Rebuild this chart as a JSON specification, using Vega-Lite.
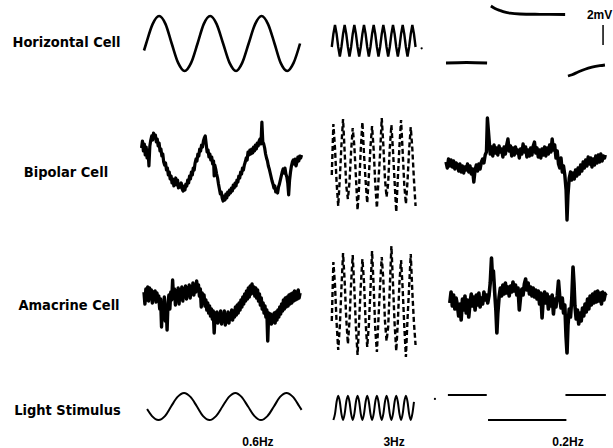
{
"$schema":"https://vega.github.io/schema/vega-lite/v6.json",
"padding":0,"background":"white","spacing":0,
"config":{"view":{"stroke":null},"concat":{"spacing":0}},
"datasets":{
"hc06":[{"t":0,"v":-0.7},{"t":0.07,"v":0},{"t":0.28,"v":1.94},{"t":0.49,"v":2.75},{"t":0.70,"v":1.94},{"t":0.90,"v":0},{"t":1.11,"v":-1.94},{"t":1.32,"v":-2.75},{"t":1.53,"v":-1.94},{"t":1.74,"v":0},{"t":1.94,"v":1.94},{"t":2.15,"v":2.75},{"t":2.36,"v":1.94},{"t":2.57,"v":0},{"t":2.78,"v":-1.94},{"t":2.99,"v":-2.75},{"t":3.19,"v":-1.94},{"t":3.40,"v":0},{"t":3.61,"v":1.94},{"t":3.82,"v":2.75},{"t":4.03,"v":1.94},{"t":4.24,"v":0},{"t":4.44,"v":-1.94},{"t":4.65,"v":-2.75},{"t":4.86,"v":-1.94},{"t":5.07,"v":0}],
"ls06":[{"t":0.10,"v":-0.19},{"t":0.26,"v":-0.71},{"t":0.47,"v":-1},{"t":0.68,"v":-0.71},{"t":0.88,"v":0},{"t":1.09,"v":0.71},{"t":1.30,"v":1},{"t":1.51,"v":0.71},{"t":1.72,"v":0},{"t":1.92,"v":-0.71},{"t":2.13,"v":-1},{"t":2.34,"v":-0.71},{"t":2.55,"v":0},{"t":2.76,"v":0.71},{"t":2.97,"v":1},{"t":3.17,"v":0.71},{"t":3.38,"v":0},{"t":3.59,"v":-0.71},{"t":3.80,"v":-1},{"t":4.01,"v":-0.71},{"t":4.22,"v":0},{"t":4.42,"v":0.71},{"t":4.63,"v":1},{"t":4.84,"v":0.71},{"t":5.05,"v":0},{"t":5.12,"v":-0.25}],
"hc3":[{"t":0.061,"v":-0.35},{"t":0.116,"v":0.95},{"t":0.172,"v":1.85},{"t":0.228,"v":0.95},{"t":0.283,"v":-0.35},{"t":0.339,"v":-1.3},{"t":0.394,"v":-0.35},{"t":0.450,"v":0.95},{"t":0.505,"v":1.85},{"t":0.561,"v":0.95},{"t":0.617,"v":-0.35},{"t":0.672,"v":-1.3},{"t":0.728,"v":-0.35},{"t":0.783,"v":0.95},{"t":0.839,"v":1.85},{"t":0.894,"v":0.95},{"t":0.950,"v":-0.35},{"t":1.006,"v":-1.3},{"t":1.061,"v":-0.35},{"t":1.117,"v":0.95},{"t":1.172,"v":1.85},{"t":1.228,"v":0.95},{"t":1.283,"v":-0.35},{"t":1.339,"v":-1.3},{"t":1.395,"v":-0.35},{"t":1.450,"v":0.95},{"t":1.506,"v":1.85},{"t":1.561,"v":0.95},{"t":1.617,"v":-0.35},{"t":1.672,"v":-1.3},{"t":1.728,"v":-0.35},{"t":1.784,"v":0.95},{"t":1.839,"v":1.85},{"t":1.895,"v":0.95},{"t":1.950,"v":-0.35},{"t":2.006,"v":-1.3},{"t":2.061,"v":-0.35},{"t":2.117,"v":0.95},{"t":2.172,"v":1.85},{"t":2.228,"v":0.95},{"t":2.284,"v":-0.35},{"t":2.339,"v":-1.3},{"t":2.395,"v":-0.35},{"t":2.450,"v":0.95},{"t":2.506,"v":1.85},{"t":2.561,"v":0.95},{"t":2.617,"v":-0.35},{"t":2.673,"v":-1.3},{"t":2.728,"v":-0.35},{"t":2.784,"v":0.95},{"t":2.839,"v":1.85},{"t":2.895,"v":0.95},{"t":2.950,"v":-0.35}],
"hc3dot":[{"t":3.16,"v":-0.48}],
"ls3":[{"t":0.116,"v":-1.0},{"t":0.172,"v":-0.55},{"t":0.228,"v":0.35},{"t":0.283,"v":0.8},{"t":0.339,"v":0.35},{"t":0.394,"v":-0.55},{"t":0.450,"v":-1.0},{"t":0.505,"v":-0.55},{"t":0.561,"v":0.35},{"t":0.617,"v":0.8},{"t":0.672,"v":0.35},{"t":0.728,"v":-0.55},{"t":0.783,"v":-1.0},{"t":0.839,"v":-0.55},{"t":0.894,"v":0.35},{"t":0.950,"v":0.8},{"t":1.006,"v":0.35},{"t":1.061,"v":-0.55},{"t":1.117,"v":-1.0},{"t":1.172,"v":-0.55},{"t":1.228,"v":0.35},{"t":1.283,"v":0.8},{"t":1.339,"v":0.35},{"t":1.395,"v":-0.55},{"t":1.450,"v":-1.0},{"t":1.506,"v":-0.55},{"t":1.561,"v":0.35},{"t":1.617,"v":0.8},{"t":1.672,"v":0.35},{"t":1.728,"v":-0.55},{"t":1.784,"v":-1.0},{"t":1.839,"v":-0.55},{"t":1.895,"v":0.35},{"t":1.950,"v":0.8},{"t":2.006,"v":0.35},{"t":2.061,"v":-0.55},{"t":2.117,"v":-1.0},{"t":2.172,"v":-0.55},{"t":2.228,"v":0.35},{"t":2.284,"v":0.8},{"t":2.339,"v":0.35},{"t":2.395,"v":-0.55},{"t":2.450,"v":-1.0},{"t":2.506,"v":-0.55},{"t":2.561,"v":0.35},{"t":2.617,"v":0.8},{"t":2.673,"v":0.35},{"t":2.728,"v":-0.55},{"t":2.784,"v":-1.0},{"t":2.839,"v":-0.55},{"t":2.895,"v":0.35}],
"bp3":[{"t":0.061,"v":-1.5},{"t":0.116,"v":3.6},{"t":0.172,"v":1.2},{"t":0.228,"v":-2.3},{"t":0.283,"v":-4.6},{"t":0.339,"v":-1.8},{"t":0.394,"v":1.5},{"t":0.450,"v":4.1},{"t":0.505,"v":0.8},{"t":0.561,"v":-2.6},{"t":0.617,"v":-3.9},{"t":0.672,"v":-2.2},{"t":0.728,"v":0.9},{"t":0.783,"v":3.2},{"t":0.839,"v":1.4},{"t":0.894,"v":-1.7},{"t":0.950,"v":-5.0},{"t":1.006,"v":-2.5},{"t":1.061,"v":1.1},{"t":1.117,"v":3.8},{"t":1.172,"v":0.6},{"t":1.228,"v":-2.1},{"t":1.283,"v":-4.3},{"t":1.339,"v":-1.6},{"t":1.395,"v":1.3},{"t":1.450,"v":3.4},{"t":1.506,"v":1.0},{"t":1.561,"v":-2.4},{"t":1.617,"v":-4.8},{"t":1.672,"v":-2.0},{"t":1.728,"v":0.7},{"t":1.784,"v":4.2},{"t":1.839,"v":1.5},{"t":1.895,"v":-1.9},{"t":1.950,"v":-3.7},{"t":2.006,"v":-2.3},{"t":2.061,"v":1.2},{"t":2.117,"v":3.5},{"t":2.172,"v":0.9},{"t":2.228,"v":-2.2},{"t":2.284,"v":-5.2},{"t":2.339,"v":-1.8},{"t":2.395,"v":1.4},{"t":2.450,"v":4.0},{"t":2.506,"v":0.8},{"t":2.561,"v":-2.5},{"t":2.617,"v":-4.4},{"t":2.673,"v":-2.1},{"t":2.728,"v":1.0},{"t":2.784,"v":3.3},{"t":2.839,"v":1.1},{"t":2.895,"v":-2.0},{"t":2.950,"v":-4.6}],
"am3":[{"t":0.061,"v":-2.0},{"t":0.116,"v":3.9},{"t":0.172,"v":1.6},{"t":0.228,"v":-2.2},{"t":0.283,"v":-4.9},{"t":0.339,"v":-2.5},{"t":0.394,"v":1.3},{"t":0.450,"v":4.8},{"t":0.505,"v":2.0},{"t":0.561,"v":-1.8},{"t":0.617,"v":-4.3},{"t":0.672,"v":-2.0},{"t":0.728,"v":1.8},{"t":0.783,"v":4.6},{"t":0.839,"v":1.2},{"t":0.894,"v":-2.6},{"t":0.950,"v":-5.4},{"t":1.006,"v":-1.9},{"t":1.061,"v":1.5},{"t":1.117,"v":4.2},{"t":1.172,"v":1.9},{"t":1.228,"v":-2.1},{"t":1.283,"v":-4.6},{"t":1.339,"v":-2.4},{"t":1.395,"v":1.1},{"t":1.450,"v":5.0},{"t":1.506,"v":1.4},{"t":1.561,"v":-2.8},{"t":1.617,"v":-5.1},{"t":1.672,"v":-1.7},{"t":1.728,"v":1.6},{"t":1.784,"v":4.4},{"t":1.839,"v":2.1},{"t":1.895,"v":-2.0},{"t":1.950,"v":-4.0},{"t":2.006,"v":-2.6},{"t":2.061,"v":1.3},{"t":2.117,"v":5.5},{"t":2.172,"v":1.7},{"t":2.228,"v":-2.3},{"t":2.284,"v":-5.0},{"t":2.339,"v":-2.1},{"t":2.395,"v":1.9},{"t":2.450,"v":4.1},{"t":2.506,"v":1.2},{"t":2.561,"v":-2.5},{"t":2.617,"v":-5.6},{"t":2.673,"v":-1.8},{"t":2.728,"v":1.4},{"t":2.784,"v":4.7},{"t":2.839,"v":0.9},{"t":2.895,"v":-2.2},{"t":2.950,"v":-4.4}],
"bp06":[{"t":-0.08,"v":1.2},{"t":-0.05,"v":1.9},{"t":-0.02,"v":0.9},{"t":0.01,"v":1.6},{"t":0.04,"v":0.5},{"t":0.07,"v":1.3},{"t":0.10,"v":0.2},{"t":0.13,"v":1.0},{"t":0.16,"v":-0.6},{"t":0.19,"v":1.4},{"t":0.22,"v":2.0},{"t":0.25,"v":2.4},{"t":0.28,"v":2.0},{"t":0.31,"v":2.7},{"t":0.34,"v":2.2},{"t":0.37,"v":2.5},{"t":0.40,"v":1.8},{"t":0.43,"v":2.1},{"t":0.46,"v":1.4},{"t":0.49,"v":1.7},{"t":0.52,"v":0.9},{"t":0.55,"v":1.1},{"t":0.58,"v":0.4},{"t":0.61,"v":0.6},{"t":0.64,"v":-0.2},{"t":0.67,"v":-0.5},{"t":0.70,"v":-0.3},{"t":0.73,"v":-1.0},{"t":0.76,"v":-0.8},{"t":0.79,"v":-1.5},{"t":0.82,"v":-1.2},{"t":0.85,"v":-1.9},{"t":0.88,"v":-1.6},{"t":0.91,"v":-2.3},{"t":0.94,"v":-1.9},{"t":0.97,"v":-2.6},{"t":1.00,"v":-2.2},{"t":1.03,"v":-1.8},{"t":1.06,"v":-2.5},{"t":1.09,"v":-2.0},{"t":1.12,"v":-2.8},{"t":1.15,"v":-2.4},{"t":1.18,"v":-2.7},{"t":1.21,"v":-2.3},{"t":1.24,"v":-2.9},{"t":1.27,"v":-3.1},{"t":1.30,"v":-2.6},{"t":1.33,"v":-3.0},{"t":1.36,"v":-2.4},{"t":1.39,"v":-2.6},{"t":1.42,"v":-2.0},{"t":1.45,"v":-2.3},{"t":1.48,"v":-1.6},{"t":1.51,"v":-1.9},{"t":1.54,"v":-1.2},{"t":1.57,"v":-1.5},{"t":1.60,"v":-0.8},{"t":1.63,"v":-1.0},{"t":1.66,"v":-0.3},{"t":1.69,"v":0.1},{"t":1.72,"v":-0.1},{"t":1.75,"v":0.6},{"t":1.78,"v":0.4},{"t":1.81,"v":1.1},{"t":1.84,"v":0.9},{"t":1.87,"v":1.5},{"t":1.90,"v":1.3},{"t":1.93,"v":1.9},{"t":1.96,"v":2.2},{"t":1.99,"v":2.4},{"t":2.02,"v":1.6},{"t":2.05,"v":0.8},{"t":2.08,"v":1.0},{"t":2.11,"v":0.3},{"t":2.14,"v":0.6},{"t":2.17,"v":0.0},{"t":2.20,"v":0.3},{"t":2.23,"v":-0.4},{"t":2.26,"v":-0.1},{"t":2.28,"v":-1.6},{"t":2.30,"v":-0.5},{"t":2.33,"v":-0.9},{"t":2.36,"v":-1.4},{"t":2.39,"v":-1.8},{"t":2.42,"v":-2.4},{"t":2.45,"v":-2.9},{"t":2.48,"v":-3.4},{"t":2.51,"v":-3.2},{"t":2.54,"v":-3.8},{"t":2.57,"v":-4.1},{"t":2.60,"v":-3.6},{"t":2.63,"v":-4.0},{"t":2.66,"v":-3.4},{"t":2.69,"v":-3.8},{"t":2.72,"v":-3.2},{"t":2.75,"v":-3.5},{"t":2.78,"v":-3.0},{"t":2.81,"v":-3.3},{"t":2.84,"v":-2.8},{"t":2.87,"v":-3.1},{"t":2.90,"v":-2.5},{"t":2.93,"v":-2.8},{"t":2.96,"v":-2.3},{"t":2.99,"v":-2.6},{"t":3.02,"v":-2.0},{"t":3.05,"v":-2.2},{"t":3.08,"v":-1.6},{"t":3.11,"v":-1.8},{"t":3.14,"v":-1.2},{"t":3.17,"v":-1.4},{"t":3.20,"v":-0.8},{"t":3.23,"v":-1.0},{"t":3.26,"v":-0.5},{"t":3.29,"v":-0.2},{"t":3.32,"v":0.2},{"t":3.35,"v":0.0},{"t":3.38,"v":0.8},{"t":3.41,"v":0.5},{"t":3.44,"v":1.0},{"t":3.47,"v":0.6},{"t":3.50,"v":1.1},{"t":3.53,"v":0.7},{"t":3.56,"v":1.3},{"t":3.59,"v":0.9},{"t":3.62,"v":1.5},{"t":3.65,"v":1.1},{"t":3.68,"v":1.7},{"t":3.71,"v":1.4},{"t":3.74,"v":1.9},{"t":3.77,"v":2.1},{"t":3.80,"v":1.6},{"t":3.83,"v":3.8},{"t":3.86,"v":1.8},{"t":3.89,"v":1.6},{"t":3.92,"v":1.2},{"t":3.95,"v":0.6},{"t":3.98,"v":0.2},{"t":4.01,"v":-0.1},{"t":4.04,"v":-0.6},{"t":4.07,"v":-0.9},{"t":4.10,"v":-1.3},{"t":4.13,"v":-1.7},{"t":4.16,"v":-2.1},{"t":4.19,"v":-2.4},{"t":4.22,"v":-2.8},{"t":4.25,"v":-2.6},{"t":4.28,"v":-3.2},{"t":4.31,"v":-2.9},{"t":4.34,"v":-3.3},{"t":4.37,"v":-2.7},{"t":4.40,"v":-2.4},{"t":4.43,"v":-2.0},{"t":4.46,"v":-1.6},{"t":4.49,"v":-1.2},{"t":4.52,"v":-0.9},{"t":4.55,"v":-1.3},{"t":4.58,"v":-0.8},{"t":4.61,"v":-1.4},{"t":4.64,"v":-1.7},{"t":4.67,"v":-2.3},{"t":4.70,"v":-3.5},{"t":4.73,"v":-2.0},{"t":4.76,"v":-1.2},{"t":4.79,"v":-0.6},{"t":4.82,"v":-0.2},{"t":4.85,"v":0.0},{"t":4.88,"v":-0.4},{"t":4.91,"v":0.1},{"t":4.94,"v":-0.6},{"t":4.97,"v":-0.2},{"t":5.00,"v":0.3},{"t":5.03,"v":-0.1},{"t":5.06,"v":0.4},{"t":5.09,"v":0.2},{"t":5.12,"v":0.5}],
"am06":[{"t":0.00,"v":0.9},{"t":0.03,"v":-0.3},{"t":0.06,"v":1.2},{"t":0.09,"v":0.1},{"t":0.12,"v":1.4},{"t":0.15,"v":0.0},{"t":0.18,"v":1.3},{"t":0.21,"v":0.4},{"t":0.24,"v":1.1},{"t":0.27,"v":-0.2},{"t":0.30,"v":0.9},{"t":0.33,"v":0.2},{"t":0.36,"v":1.0},{"t":0.39,"v":-0.1},{"t":0.42,"v":0.8},{"t":0.45,"v":0.3},{"t":0.48,"v":0.5},{"t":0.51,"v":-0.8},{"t":0.54,"v":0.2},{"t":0.57,"v":-2.6},{"t":0.60,"v":-0.3},{"t":0.63,"v":-1.2},{"t":0.66,"v":0.4},{"t":0.69,"v":-2.0},{"t":0.72,"v":-0.5},{"t":0.75,"v":-2.9},{"t":0.78,"v":-0.2},{"t":0.81,"v":0.6},{"t":0.84,"v":-0.8},{"t":0.87,"v":0.9},{"t":0.90,"v":0.1},{"t":0.93,"v":2.1},{"t":0.96,"v":0.3},{"t":0.99,"v":1.2},{"t":1.02,"v":-0.4},{"t":1.05,"v":1.0},{"t":1.08,"v":0.2},{"t":1.11,"v":1.3},{"t":1.14,"v":-0.3},{"t":1.17,"v":1.1},{"t":1.20,"v":0.4},{"t":1.23,"v":1.4},{"t":1.26,"v":0.0},{"t":1.29,"v":1.2},{"t":1.32,"v":0.5},{"t":1.35,"v":1.5},{"t":1.38,"v":0.2},{"t":1.41,"v":1.3},{"t":1.44,"v":0.6},{"t":1.47,"v":1.6},{"t":1.50,"v":0.3},{"t":1.53,"v":1.4},{"t":1.56,"v":0.7},{"t":1.59,"v":1.8},{"t":1.62,"v":0.6},{"t":1.65,"v":1.5},{"t":1.68,"v":0.9},{"t":1.71,"v":2.0},{"t":1.74,"v":1.1},{"t":1.77,"v":1.6},{"t":1.80,"v":0.5},{"t":1.83,"v":1.2},{"t":1.86,"v":-0.6},{"t":1.89,"v":0.8},{"t":1.92,"v":0.0},{"t":1.95,"v":0.6},{"t":1.98,"v":-0.5},{"t":2.01,"v":0.1},{"t":2.04,"v":-0.9},{"t":2.07,"v":-0.2},{"t":2.10,"v":-1.2},{"t":2.13,"v":-0.5},{"t":2.16,"v":-1.5},{"t":2.19,"v":-0.8},{"t":2.22,"v":-1.8},{"t":2.25,"v":-1.0},{"t":2.28,"v":-3.2},{"t":2.31,"v":-1.2},{"t":2.34,"v":-2.0},{"t":2.37,"v":-1.1},{"t":2.40,"v":-2.2},{"t":2.43,"v":-1.3},{"t":2.46,"v":-2.0},{"t":2.49,"v":-1.0},{"t":2.52,"v":-2.3},{"t":2.55,"v":-1.4},{"t":2.58,"v":-1.9},{"t":2.61,"v":-1.0},{"t":2.64,"v":-2.4},{"t":2.67,"v":-1.5},{"t":2.70,"v":-2.1},{"t":2.73,"v":-1.1},{"t":2.76,"v":-2.2},{"t":2.79,"v":-1.3},{"t":2.82,"v":-1.8},{"t":2.85,"v":-0.9},{"t":2.88,"v":-1.9},{"t":2.91,"v":-1.0},{"t":2.94,"v":-1.6},{"t":2.97,"v":-0.6},{"t":3.00,"v":-1.4},{"t":3.03,"v":-0.4},{"t":3.06,"v":-1.2},{"t":3.09,"v":-0.2},{"t":3.12,"v":-0.9},{"t":3.15,"v":0.1},{"t":3.18,"v":-0.6},{"t":3.21,"v":0.4},{"t":3.24,"v":-0.3},{"t":3.27,"v":0.7},{"t":3.30,"v":0.0},{"t":3.33,"v":1.0},{"t":3.36,"v":0.2},{"t":3.39,"v":1.3},{"t":3.42,"v":0.4},{"t":3.45,"v":1.5},{"t":3.48,"v":0.7},{"t":3.51,"v":1.7},{"t":3.54,"v":0.8},{"t":3.57,"v":1.4},{"t":3.60,"v":0.5},{"t":3.63,"v":1.3},{"t":3.66,"v":0.3},{"t":3.69,"v":1.1},{"t":3.72,"v":0.0},{"t":3.75,"v":0.7},{"t":3.78,"v":-0.4},{"t":3.81,"v":0.3},{"t":3.84,"v":-0.8},{"t":3.87,"v":-0.2},{"t":3.90,"v":-1.2},{"t":3.93,"v":-0.5},{"t":3.96,"v":-1.6},{"t":3.99,"v":-0.9},{"t":4.02,"v":-4.0},{"t":4.05,"v":-1.2},{"t":4.08,"v":-2.0},{"t":4.11,"v":-1.3},{"t":4.14,"v":-2.3},{"t":4.17,"v":-1.4},{"t":4.20,"v":-2.1},{"t":4.23,"v":-1.2},{"t":4.26,"v":-2.2},{"t":4.29,"v":-1.1},{"t":4.32,"v":-1.9},{"t":4.35,"v":-0.9},{"t":4.38,"v":-1.6},{"t":4.41,"v":-0.6},{"t":4.44,"v":-1.3},{"t":4.47,"v":-0.3},{"t":4.50,"v":-1.0},{"t":4.53,"v":0.1},{"t":4.56,"v":-0.8},{"t":4.59,"v":0.3},{"t":4.62,"v":-0.6},{"t":4.65,"v":0.4},{"t":4.68,"v":-0.5},{"t":4.71,"v":0.6},{"t":4.74,"v":-0.3},{"t":4.77,"v":0.7},{"t":4.80,"v":-0.2},{"t":4.83,"v":0.8},{"t":4.86,"v":0.0},{"t":4.89,"v":1.0},{"t":4.92,"v":0.1},{"t":4.95,"v":0.9},{"t":4.98,"v":0.2},{"t":5.01,"v":1.1},{"t":5.04,"v":0.3},{"t":5.07,"v":0.8}],
"bp02":[{"t":0.00,"v":-0.2},{"t":0.04,"v":-0.8},{"t":0.08,"v":0.1},{"t":0.12,"v":-0.6},{"t":0.16,"v":0.0},{"t":0.20,"v":-0.7},{"t":0.24,"v":-0.1},{"t":0.28,"v":-0.9},{"t":0.32,"v":-0.3},{"t":0.36,"v":-0.5},{"t":0.40,"v":-1.1},{"t":0.44,"v":-0.4},{"t":0.48,"v":-1.2},{"t":0.52,"v":-0.6},{"t":0.56,"v":-1.3},{"t":0.60,"v":-0.7},{"t":0.64,"v":-1.0},{"t":0.68,"v":-0.4},{"t":0.72,"v":-1.2},{"t":0.76,"v":-0.6},{"t":0.80,"v":-1.4},{"t":0.84,"v":-0.9},{"t":0.88,"v":-2.2},{"t":0.92,"v":-1.0},{"t":0.96,"v":-0.5},{"t":1.00,"v":-1.1},{"t":1.04,"v":-0.4},{"t":1.08,"v":-0.9},{"t":1.12,"v":-0.2},{"t":1.16,"v":0.1},{"t":1.20,"v":-0.3},{"t":1.24,"v":0.5},{"t":1.28,"v":0.8},{"t":1.31,"v":4.2},{"t":1.34,"v":3.0},{"t":1.37,"v":1.8},{"t":1.40,"v":0.6},{"t":1.44,"v":1.3},{"t":1.48,"v":0.4},{"t":1.52,"v":1.5},{"t":1.56,"v":0.7},{"t":1.60,"v":1.2},{"t":1.64,"v":0.5},{"t":1.68,"v":1.4},{"t":1.72,"v":0.8},{"t":1.76,"v":1.1},{"t":1.80,"v":0.3},{"t":1.84,"v":1.3},{"t":1.88,"v":0.6},{"t":1.92,"v":1.5},{"t":1.96,"v":2.1},{"t":2.00,"v":0.9},{"t":2.04,"v":1.4},{"t":2.08,"v":0.4},{"t":2.12,"v":1.2},{"t":2.16,"v":0.5},{"t":2.20,"v":1.3},{"t":2.24,"v":0.7},{"t":2.28,"v":1.0},{"t":2.32,"v":0.2},{"t":2.36,"v":1.1},{"t":2.40,"v":0.6},{"t":2.44,"v":1.6},{"t":2.48,"v":0.8},{"t":2.52,"v":1.3},{"t":2.56,"v":0.3},{"t":2.60,"v":1.0},{"t":2.64,"v":0.4},{"t":2.68,"v":1.2},{"t":2.72,"v":0.5},{"t":2.76,"v":1.4},{"t":2.80,"v":1.8},{"t":2.84,"v":0.7},{"t":2.88,"v":1.2},{"t":2.92,"v":0.3},{"t":2.96,"v":1.0},{"t":3.00,"v":0.2},{"t":3.04,"v":1.1},{"t":3.08,"v":0.5},{"t":3.12,"v":1.3},{"t":3.16,"v":0.4},{"t":3.20,"v":1.2},{"t":3.24,"v":0.6},{"t":3.28,"v":1.5},{"t":3.32,"v":0.8},{"t":3.36,"v":2.1},{"t":3.40,"v":1.0},{"t":3.44,"v":1.5},{"t":3.48,"v":0.2},{"t":3.52,"v":0.9},{"t":3.56,"v":-0.4},{"t":3.60,"v":-0.8},{"t":3.64,"v":0.2},{"t":3.68,"v":-1.2},{"t":3.72,"v":-0.6},{"t":3.76,"v":-1.5},{"t":3.80,"v":-3.0},{"t":3.83,"v":-6.0},{"t":3.86,"v":-3.5},{"t":3.90,"v":-1.8},{"t":3.94,"v":-1.2},{"t":3.98,"v":-2.0},{"t":4.02,"v":-1.3},{"t":4.06,"v":-1.9},{"t":4.10,"v":-1.0},{"t":4.14,"v":-1.6},{"t":4.18,"v":-0.8},{"t":4.22,"v":-1.4},{"t":4.26,"v":-0.5},{"t":4.30,"v":-1.1},{"t":4.34,"v":-0.2},{"t":4.38,"v":-0.8},{"t":4.42,"v":0.0},{"t":4.46,"v":-0.6},{"t":4.50,"v":0.3},{"t":4.54,"v":-0.4},{"t":4.58,"v":0.2},{"t":4.62,"v":-0.7},{"t":4.66,"v":0.1},{"t":4.70,"v":-0.5},{"t":4.74,"v":0.4},{"t":4.78,"v":-0.3},{"t":4.82,"v":0.5},{"t":4.86,"v":-0.2},{"t":4.90,"v":0.6},{"t":4.94,"v":-0.1},{"t":4.98,"v":0.4},{"t":5.02,"v":0.2},{"t":5.04,"v":0.5}],
"am02":[{"t":0.12,"v":-0.2},{"t":0.16,"v":0.9},{"t":0.20,"v":-0.5},{"t":0.24,"v":0.6},{"t":0.28,"v":-0.8},{"t":0.32,"v":0.3},{"t":0.36,"v":-0.4},{"t":0.40,"v":-1.5},{"t":0.44,"v":-0.3},{"t":0.48,"v":-1.9},{"t":0.52,"v":0.2},{"t":0.56,"v":-0.9},{"t":0.60,"v":0.5},{"t":0.64,"v":-1.2},{"t":0.68,"v":0.1},{"t":0.72,"v":-1.6},{"t":0.76,"v":-0.2},{"t":0.80,"v":0.7},{"t":0.84,"v":-0.5},{"t":0.88,"v":0.4},{"t":0.92,"v":-0.9},{"t":0.96,"v":0.6},{"t":1.00,"v":-0.4},{"t":1.04,"v":0.8},{"t":1.08,"v":-0.6},{"t":1.12,"v":0.3},{"t":1.16,"v":-0.3},{"t":1.20,"v":0.9},{"t":1.24,"v":0.1},{"t":1.28,"v":0.6},{"t":1.32,"v":-0.2},{"t":1.36,"v":0.5},{"t":1.40,"v":1.8},{"t":1.44,"v":4.3},{"t":1.47,"v":2.4},{"t":1.50,"v":3.0},{"t":1.54,"v":0.9},{"t":1.58,"v":-1.0},{"t":1.61,"v":-3.2},{"t":1.64,"v":-1.2},{"t":1.68,"v":0.4},{"t":1.72,"v":1.3},{"t":1.76,"v":0.5},{"t":1.80,"v":1.6},{"t":1.84,"v":0.7},{"t":1.88,"v":1.8},{"t":1.92,"v":0.8},{"t":1.96,"v":1.4},{"t":2.00,"v":0.5},{"t":2.04,"v":1.5},{"t":2.08,"v":0.9},{"t":2.12,"v":1.9},{"t":2.16,"v":1.0},{"t":2.20,"v":1.6},{"t":2.24,"v":0.6},{"t":2.28,"v":1.3},{"t":2.32,"v":-0.9},{"t":2.36,"v":0.4},{"t":2.40,"v":1.2},{"t":2.44,"v":0.6},{"t":2.48,"v":1.7},{"t":2.52,"v":2.2},{"t":2.56,"v":1.1},{"t":2.60,"v":1.8},{"t":2.64,"v":0.7},{"t":2.68,"v":1.4},{"t":2.72,"v":0.5},{"t":2.76,"v":1.3},{"t":2.80,"v":0.4},{"t":2.84,"v":1.1},{"t":2.88,"v":0.2},{"t":2.92,"v":1.0},{"t":2.96,"v":-0.3},{"t":3.00,"v":0.8},{"t":3.04,"v":-1.7},{"t":3.08,"v":0.3},{"t":3.12,"v":0.9},{"t":3.16,"v":-0.2},{"t":3.20,"v":0.7},{"t":3.24,"v":-0.8},{"t":3.28,"v":0.4},{"t":3.32,"v":-0.5},{"t":3.36,"v":0.6},{"t":3.40,"v":-1.3},{"t":3.44,"v":0.2},{"t":3.48,"v":-0.6},{"t":3.52,"v":0.5},{"t":3.56,"v":2.0},{"t":3.60,"v":0.4},{"t":3.64,"v":-0.7},{"t":3.68,"v":0.3},{"t":3.72,"v":-1.2},{"t":3.76,"v":-0.4},{"t":3.80,"v":-3.6},{"t":3.83,"v":-5.2},{"t":3.86,"v":-2.4},{"t":3.90,"v":-0.8},{"t":3.94,"v":-1.6},{"t":3.98,"v":0.2},{"t":4.02,"v":3.4},{"t":4.05,"v":1.8},{"t":4.08,"v":-0.5},{"t":4.12,"v":-1.8},{"t":4.16,"v":-0.9},{"t":4.20,"v":-2.3},{"t":4.24,"v":-1.2},{"t":4.28,"v":-2.0},{"t":4.32,"v":-0.7},{"t":4.36,"v":-1.5},{"t":4.40,"v":-0.3},{"t":4.44,"v":-1.1},{"t":4.48,"v":0.2},{"t":4.52,"v":-0.8},{"t":4.56,"v":0.5},{"t":4.60,"v":-0.4},{"t":4.64,"v":0.7},{"t":4.68,"v":-0.2},{"t":4.72,"v":0.9},{"t":4.76,"v":-0.1},{"t":4.80,"v":1.0},{"t":4.84,"v":0.0},{"t":4.88,"v":0.8},{"t":4.92,"v":-0.3},{"t":4.96,"v":0.9},{"t":5.00,"v":0.1},{"t":5.04,"v":0.7},{"t":5.08,"v":0.8}],
"hc02":[{"seg":1,"t":0,"v":-1.95},{"seg":1,"t":0.65,"v":-1.9},{"seg":1,"t":1.30,"v":-1.95},{"seg":2,"t":1.42,"v":3.75},{"seg":2,"t":1.55,"v":3.5},{"seg":2,"t":1.71,"v":3.3},{"seg":2,"t":1.87,"v":3.13},{"seg":2,"t":2.03,"v":3.03},{"seg":2,"t":2.34,"v":2.95},{"seg":2,"t":2.97,"v":2.92},{"seg":2,"t":3.77,"v":2.9},{"seg":3,"t":3.86,"v":-3.25},{"seg":3,"t":3.99,"v":-3.12},{"seg":3,"t":4.18,"v":-2.85},{"seg":3,"t":4.40,"v":-2.57},{"seg":3,"t":4.62,"v":-2.37},{"seg":3,"t":4.87,"v":-2.22},{"seg":3,"t":5.03,"v":-2.15}],
"scalebar":[{"t":4.97,"v":-0.15,"v2":1.85}],
"scalelabel":[{"t":4.46,"v":2.85,"label":"2mV"}],
"ls02":[{"seg":1,"t":0.06,"v":0.85},{"seg":1,"t":1.29,"v":0.85},{"seg":2,"t":1.33,"v":-1.0},{"seg":2,"t":3.81,"v":-1.0},{"seg":3,"t":3.78,"v":0.85},{"seg":3,"t":5.06,"v":0.85}],
"ls02dot":[{"t":-0.35,"v":0.56}],
"f06":[{"t":3.70,"v":-2.63,"label":"0.6Hz"}],
"f3":[{"t":2.21,"v":-2.63,"label":"3Hz"}],
"f02":[{"t":3.86,"v":-2.63,"label":"0.2Hz"}]
},
"vconcat":[
{"spacing":0,"bounds":"flush","hconcat":[
 {"width":136,"height":88,"data":{"values":[{"label":"Horizontal Cell"}]},"mark":{"type":"text","font":"DejaVu Sans Condensed","fontSize":14.5,"fontWeight":"bold","color":"black","dx":-1.5,"dy":-1},"encoding":{"text":{"field":"label"}}},
 {"width":180,"height":88,"data":{"name":"hc06"},"mark":{"type":"line","color":"black","strokeWidth":2.6,"interpolate":"monotone"},"encoding":{"x":{"field":"t","type":"quantitative","scale":{"domain":[-0.26,5.588],"nice":false,"zero":false},"axis":null},"y":{"field":"v","type":"quantitative","scale":{"domain":[-4.45,4.35],"nice":false,"zero":false},"axis":null}}},
 {"width":116,"height":88,"encoding":{"x":{"field":"t","type":"quantitative","scale":{"domain":[-0.483,3.517],"nice":false,"zero":false},"axis":null},"y":{"field":"v","type":"quantitative","scale":{"domain":[-4.45,4.35],"nice":false,"zero":false},"axis":null}},"layer":[
  {"data":{"name":"hc3"},"mark":{"type":"line","color":"black","strokeWidth":2.4}},
  {"data":{"name":"hc3dot"},"mark":{"type":"circle","color":"black","size":5,"opacity":1}}]},
 {"width":181,"height":88,"encoding":{"x":{"field":"t","type":"quantitative","scale":{"domain":[-0.443,5.285],"nice":false,"zero":false},"axis":null},"y":{"field":"v","type":"quantitative","scale":{"domain":[-4.45,4.35],"nice":false,"zero":false},"axis":null}},"layer":[
  {"data":{"name":"hc02"},"mark":{"type":"line","color":"black","strokeWidth":2.8,"interpolate":"monotone"},"encoding":{"detail":{"field":"seg"}}},
  {"data":{"name":"scalebar"},"mark":{"type":"rule","color":"black","strokeWidth":1.5},"encoding":{"y2":{"field":"v2"}}},
  {"data":{"name":"scalelabel"},"mark":{"type":"text","align":"left","font":"Liberation Sans","fontSize":12,"fontWeight":"bold","color":"black"},"encoding":{"text":{"field":"label"}}}]}
]},
{"spacing":0,"bounds":"flush","hconcat":[
 {"width":136,"height":144,"data":{"values":[{"label":"Bipolar Cell"}]},"mark":{"type":"text","font":"DejaVu Sans Condensed","fontSize":14.5,"fontWeight":"bold","color":"black","dx":-2,"dy":13},"encoding":{"text":{"field":"label"}}},
 {"width":180,"height":144,"data":{"name":"bp06"},"mark":{"type":"line","color":"black","strokeWidth":3.2,"strokeJoin":"round"},"encoding":{"x":{"field":"t","type":"quantitative","scale":{"domain":[-0.26,5.588],"nice":false,"zero":false},"axis":null},"y":{"field":"v","type":"quantitative","scale":{"domain":[-7.2,7.2],"nice":false,"zero":false},"axis":null}}},
 {"width":116,"height":144,"data":{"name":"bp3"},"mark":{"type":"line","color":"black","strokeWidth":2.4,"strokeDash":[5,3]},"encoding":{"x":{"field":"t","type":"quantitative","scale":{"domain":[-0.483,3.517],"nice":false,"zero":false},"axis":null},"y":{"field":"v","type":"quantitative","scale":{"domain":[-7.2,7.2],"nice":false,"zero":false},"axis":null}}},
 {"width":181,"height":144,"data":{"name":"bp02"},"mark":{"type":"line","color":"black","strokeWidth":3.4,"strokeJoin":"round"},"encoding":{"x":{"field":"t","type":"quantitative","scale":{"domain":[-0.443,5.285],"nice":false,"zero":false},"axis":null},"y":{"field":"v","type":"quantitative","scale":{"domain":[-7.2,7.2],"nice":false,"zero":false},"axis":null}}}
]},
{"spacing":0,"bounds":"flush","hconcat":[
 {"width":136,"height":138,"data":{"values":[{"label":"Amacrine Cell"}]},"mark":{"type":"text","font":"DejaVu Sans Condensed","fontSize":14.5,"fontWeight":"bold","color":"black","dx":1,"dy":5},"encoding":{"text":{"field":"label"}}},
 {"width":180,"height":138,"data":{"name":"am06"},"mark":{"type":"line","color":"black","strokeWidth":3.4,"strokeJoin":"round"},"encoding":{"x":{"field":"t","type":"quantitative","scale":{"domain":[-0.26,5.588],"nice":false,"zero":false},"axis":null},"y":{"field":"v","type":"quantitative","scale":{"domain":[-6.9,6.9],"nice":false,"zero":false},"axis":null}}},
 {"width":116,"height":138,"data":{"name":"am3"},"mark":{"type":"line","color":"black","strokeWidth":2.4,"strokeDash":[5,3]},"encoding":{"x":{"field":"t","type":"quantitative","scale":{"domain":[-0.483,3.517],"nice":false,"zero":false},"axis":null},"y":{"field":"v","type":"quantitative","scale":{"domain":[-6.9,6.9],"nice":false,"zero":false},"axis":null}}},
 {"width":181,"height":138,"data":{"name":"am02"},"mark":{"type":"line","color":"black","strokeWidth":3.6,"strokeJoin":"round"},"encoding":{"x":{"field":"t","type":"quantitative","scale":{"domain":[-0.443,5.285],"nice":false,"zero":false},"axis":null},"y":{"field":"v","type":"quantitative","scale":{"domain":[-6.9,6.9],"nice":false,"zero":false},"axis":null}}}
]},
{"spacing":0,"bounds":"flush","hconcat":[
 {"width":136,"height":78,"data":{"values":[{"label":"Light Stimulus"}]},"mark":{"type":"text","font":"DejaVu Sans Condensed","fontSize":14.5,"fontWeight":"bold","color":"black","dx":-0.5,"dy":2},"encoding":{"text":{"field":"label"}}},
 {"width":180,"height":78,"encoding":{"x":{"field":"t","type":"quantitative","scale":{"domain":[-0.26,5.588],"nice":false,"zero":false},"axis":null},"y":{"field":"v","type":"quantitative","scale":{"domain":[-3.074,2.704],"nice":false,"zero":false},"axis":null}},"layer":[
  {"data":{"name":"ls06"},"mark":{"type":"line","color":"black","strokeWidth":2,"interpolate":"monotone"}},
  {"data":{"name":"f06"},"mark":{"type":"text","font":"Liberation Sans","fontSize":12,"fontWeight":"bold","color":"black"},"encoding":{"text":{"field":"label"}}}]},
 {"width":116,"height":78,"encoding":{"x":{"field":"t","type":"quantitative","scale":{"domain":[-0.483,3.517],"nice":false,"zero":false},"axis":null},"y":{"field":"v","type":"quantitative","scale":{"domain":[-3.074,2.704],"nice":false,"zero":false},"axis":null}},"layer":[
  {"data":{"name":"ls3"},"mark":{"type":"line","color":"black","strokeWidth":2,"interpolate":"monotone"}},
  {"data":{"name":"f3"},"mark":{"type":"text","font":"Liberation Sans","fontSize":12,"fontWeight":"bold","color":"black"},"encoding":{"text":{"field":"label"}}}]},
 {"width":181,"height":78,"encoding":{"x":{"field":"t","type":"quantitative","scale":{"domain":[-0.443,5.285],"nice":false,"zero":false},"axis":null},"y":{"field":"v","type":"quantitative","scale":{"domain":[-3.074,2.704],"nice":false,"zero":false},"axis":null}},"layer":[
  {"data":{"name":"ls02"},"mark":{"type":"line","color":"black","strokeWidth":2},"encoding":{"detail":{"field":"seg"}}},
  {"data":{"name":"ls02dot"},"mark":{"type":"circle","color":"black","size":5,"opacity":1}},
  {"data":{"name":"f02"},"mark":{"type":"text","font":"Liberation Sans","fontSize":12,"fontWeight":"bold","color":"black"},"encoding":{"text":{"field":"label"}}}]}
]}
]
}
